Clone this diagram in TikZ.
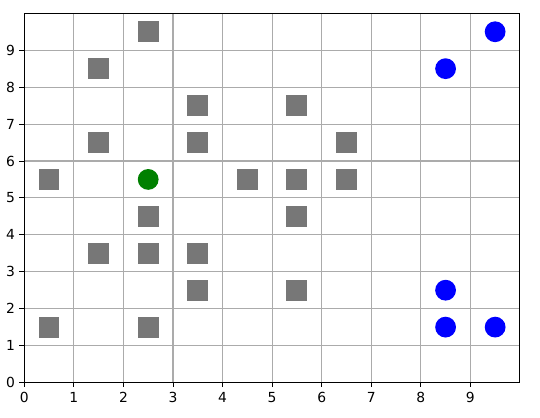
\documentclass[tikz,border=0pt]{standalone}
\usepackage{fontspec}
\setmainfont{DejaVu Sans}
\begin{document}
\begin{tikzpicture}[x=37.17pt,y=27.69pt,
  gridline/.style={draw=gridgray,line width=0.8pt},
  obstacle/.style={rectangle,fill=obsgray,minimum size=15.6pt,inner sep=0pt},
  goalpt/.style={circle,fill=blue,minimum size=15.6pt,inner sep=0pt},
  startpt/.style={circle,fill=startgreen,minimum size=15.6pt,inner sep=0pt},
  xlab/.style={anchor=north,inner sep=0pt,font=\fontsize{10.4}{12}\selectfont},
  ylab/.style={anchor=east,inner sep=0pt,font=\fontsize{10.4}{12}\selectfont}]
\definecolor{gridgray}{HTML}{ABABAB}
\definecolor{obsgray}{HTML}{777777}
\definecolor{startgreen}{HTML}{008000}
\useasboundingbox (-0.4903,-0.9344) rectangle (10.405,10.360);
\fill[white] (-0.4903,-0.9344) rectangle (10.405,10.360);
% grid
\foreach \i in {1,...,9} {
  \draw[gridline] (\i,0) -- (\i,10);
  \draw[gridline] (0,\i) -- (10,\i);
}
% ticks and labels
\foreach \i in {0,...,9} {
  \draw[line width=0.6pt] (\i,0) -- ++(0,-3.6pt);
  \node[xlab] (xl\i) at ([yshift=-7.35pt]\i,0) {\i};
  \draw[line width=0.6pt] (0,\i) -- ++(-3.6pt,0);
  \node[ylab] (yl\i) at ([xshift=-6.9pt]0,\i) {\i};
}
% obstacles
\foreach \p [count=\k] in {(2.5,9.5),(1.5,8.5),(3.5,7.5),(5.5,7.5),(1.5,6.5),(3.5,6.5),(6.5,6.5),
  (0.5,5.5),(4.5,5.5),(5.5,5.5),(6.5,5.5),(2.5,4.5),(5.5,4.5),(1.5,3.5),(2.5,3.5),(3.5,3.5),
  (3.5,2.5),(5.5,2.5),(0.5,1.5),(2.5,1.5)}
  \node[obstacle] (o\k) at \p {};
% goals
\foreach \p [count=\k] in {(9.5,9.5),(8.5,8.5),(8.5,2.5),(8.5,1.5),(9.5,1.5)}
  \node[goalpt] (g\k) at \p {};
% start
\node[startpt] (s) at (2.5,5.5) {};
% frame
\draw[line width=0.8pt] (0,0) rectangle (10,10);
\end{tikzpicture}
\end{document}
